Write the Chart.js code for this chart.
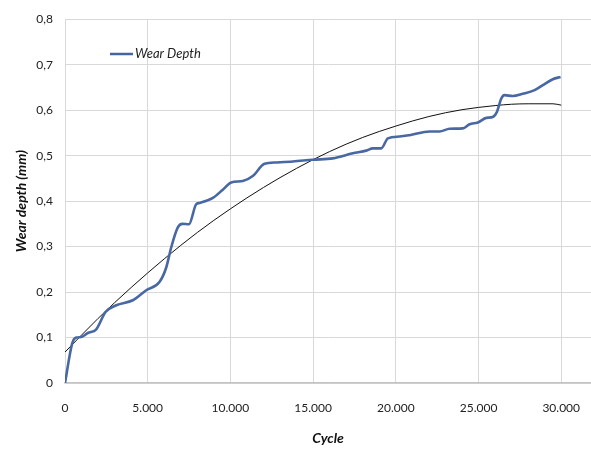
<!DOCTYPE html>
<html>
<head>
<meta charset="utf-8">
<script src="https://cdn.jsdelivr.net/npm/chart.js@4.4.1/dist/chart.umd.min.js"></script>
<style>
html,body{margin:0;padding:0;background:#fff;}
canvas{display:block;}
</style>
</head>
<body>
<canvas id="c" width="591" height="449"></canvas>
<script>
// Wear Depth series (cycle, mm)
const wearCycles = [0,435,680,980,1380,1890,2450,3100,4100,4910,5710,6120,6420,6820,7090,7490,7930,8130,8940,9540,10050,10750,11350,12060,12770,13780,14980,16190,17400,18210,18610,19120,19520,20220,20830,22040,22640,23250,24050,24460,24960,25470,25860,26110,26370,26570,27070,27680,28390,28890,29490,29960];
const wearDepth = [0,0.087,0.100,0.101,0.110,0.118,0.156,0.171,0.182,0.204,0.222,0.254,0.298,0.342,0.350,0.349,0.393,0.396,0.407,0.425,0.441,0.444,0.455,0.482,0.485,0.487,0.491,0.494,0.505,0.511,0.516,0.516,0.538,0.542,0.545,0.553,0.553,0.559,0.560,0.569,0.573,0.583,0.585,0.596,0.625,0.633,0.631,0.636,0.644,0.655,0.668,0.673];
// Trend line
const trendCycles = [0,2000,4000,6000,8000,10000,12000,14000,16000,18000,20000,22000,24000,26000,27000,28000,29500,30000];
const trendDepth = [0.068,0.142,0.210,0.273,0.331,0.383,0.430,0.472,0.509,0.540,0.565,0.586,0.601,0.610,0.613,0.614,0.614,0.611];
// Axis ticks
const xTicks = [0,5000,10000,15000,20000,25000,30000];
const yTicks = [0,0.1,0.2,0.3,0.4,0.5,0.6,0.7,0.8];
const legendLabel = 'Wear Depth';
const xTitle = 'Cycle';
const yTitle = 'Wear depth (mm)';

const toPts = (xs, ys) => xs.map((x, i) => ({x: x, y: ys[i]}));
const fmtX = v => String(Math.round(v)).replace(/\B(?=(\d{3})+(?!\d))/g, '.');
const fmtY = v => Math.abs(v) < 1e-9 ? '0' : v.toFixed(1).replace('.', ',');

const legendPlugin = {
  id: 'customLegend',
  afterDraw(chart) {
    const ctx = chart.ctx;
    ctx.save();
    ctx.strokeStyle = '#4565a0';
    ctx.lineWidth = 2.5;
    ctx.beginPath();
    ctx.moveTo(110, 54);
    ctx.lineTo(133, 54);
    ctx.stroke();
    ctx.fillStyle = '#222';
    ctx.font = 'italic 13px Lato';
    ctx.textBaseline = 'middle';
    ctx.fillText(legendLabel, 135, 54);
    ctx.restore();
  }
};

new Chart(document.getElementById('c'), {
  type: 'line',
  data: {
    datasets: [
      {
        label: legendLabel,
        data: toPts(wearCycles, wearDepth),
        borderColor: '#4868a3',
        borderWidth: 2.6,
        pointRadius: 0,
        cubicInterpolationMode: 'monotone',
        fill: false
      },
      {
        label: 'trend',
        data: toPts(trendCycles, trendDepth),
        borderColor: '#111',
        borderWidth: 1,
        pointRadius: 0,
        cubicInterpolationMode: 'monotone',
        fill: false
      }
    ]
  },
  options: {
    responsive: false,
    animation: false,
    layout: {padding: {top: 16, right: 0, bottom: 0, left: 0}},
    plugins: {legend: {display: false}, tooltip: {enabled: false}},
    scales: {
      x: {
        type: 'linear',
        min: 0,
        max: 31800,
        afterBuildTicks(s) { s.ticks = xTicks.map(v => ({value: v})); },
        afterFit(s) { s.height = 66; s.paddingLeft = 0; s.paddingRight = 0; },
        grid: {color: '#d9d9d9', lineWidth: 1, drawTicks: false},
        border: {color: '#c4c4c4', width: 1.5},
        ticks: {
          callback: v => fmtX(v),
          padding: 18,
          maxRotation: 0,
          autoSkip: false,
          color: '#222',
          font: {family: 'Lato', size: 12}
        },
        title: {
          display: true,
          text: xTitle,
          color: '#111',
          font: {family: 'Lato', size: 14, style: 'italic', weight: 'bold'},
          padding: {top: 0, bottom: 2}
        }
      },
      y: {
        min: 0,
        max: 0.8,
        afterBuildTicks(s) { s.ticks = yTicks.map(v => ({value: v})); },
        afterFit(s) { s.width = 65; },
        grid: {color: '#d9d9d9', lineWidth: 1, drawTicks: false},
        border: {color: '#d9d9d9', width: 1},
        ticks: {
          callback: v => fmtY(v),
          padding: 12,
          color: '#222',
          font: {family: 'Lato', size: 12}
        },
        title: {
          display: true,
          text: yTitle,
          color: '#111',
          font: {family: 'Lato', size: 14, style: 'italic', weight: 'bold'},
          padding: {top: 13, bottom: 0}
        }
      }
    }
  },
  plugins: [legendPlugin]
});
</script>
</body>
</html>
